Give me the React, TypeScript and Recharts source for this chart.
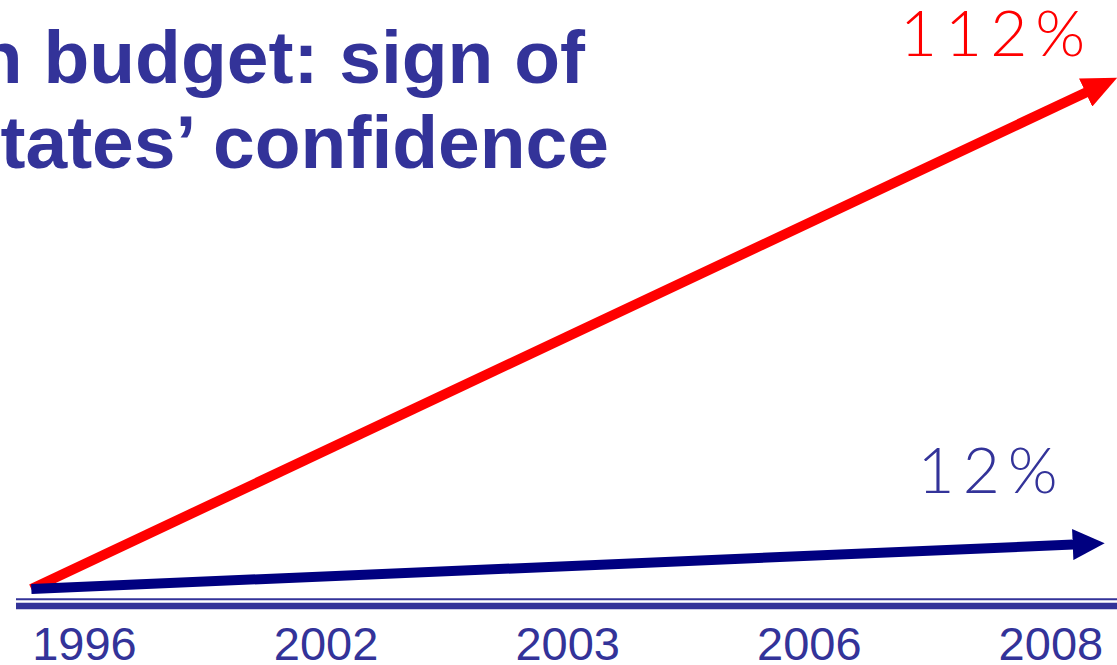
import { LineChart, Line, XAxis, YAxis, ReferenceLine, LabelList } from "recharts";

// axis categories (equally spaced)
const years = ["1996", "2002", "2003", "2006", "2008"];
const yearTicks = [0, 1, 2, 3, 4];

// arrow series: position on the year index scale, growth in %
const arrowX = [-0.22, 4.2];
const redGrowth = [0, 112];
const navyX = [-0.22, 4.14];
const navyGrowth = [0, 10];
const redLabel = "112%";
const navyLabel = "12%";

const redData = arrowX.map((x, i) => ({ x, v: redGrowth[i] }));
const navyData = navyX.map((x, i) => ({ x, v: navyGrowth[i] }));

const BLUE = "#333399";
const NAVY = "#000080";
const RED = "#FF0000";

const EndLabel = (text: string, color: string, dx: number, dy: number, last: number) =>
  (props: any) => {
    if (props.index !== last) return null;
    return (
      <text
        x={props.x + dx}
        y={props.y + dy}
        textAnchor="end"
        fill={color}
        fontFamily="Lato, 'Open Sans', sans-serif"
        fontWeight={300}
        fontSize={64}
        letterSpacing={8}
      >
        {text}
      </text>
    );
  };

export default function App() {
  return (
    <div style={{ position: "absolute", left: 0, top: 0, width: 1117, height: 665, background: "#fff" }}>
      <svg width={0} height={0} style={{ position: "absolute" }}>
        <defs>
          <marker id="headRed" markerUnits="userSpaceOnUse" viewBox="0 0 35 31" markerWidth={35} markerHeight={31} refX={15} refY={15.5} orient="auto">
            <path d="M0,0 L35,15.5 L0,31 z" fill={RED} />
          </marker>
          <marker id="headNavy" markerUnits="userSpaceOnUse" viewBox="0 0 32 31" markerWidth={32} markerHeight={31} refX={12} refY={15.5} orient="auto">
            <path d="M0,0 L32,15.5 L0,31 z" fill={NAVY} />
          </marker>
        </defs>
      </svg>
      <LineChart width={1117} height={665} margin={{ top: 0, right: 0, left: 16, bottom: 0 }}>
        <XAxis
          type="number"
          dataKey="x"
          domain={[-0.2835, 4.2736]}
          allowDataOverflow
          ticks={yearTicks}
          interval={0}
          tickFormatter={(v: number) => years[v]}
          height={59}
          tickSize={0}
          tickMargin={21}
          tickLine={false}
          axisLine={{ stroke: BLUE, strokeWidth: 6.5 }}
          tick={{ fill: BLUE, fontSize: 47, fontFamily: "'Liberation Sans', Arial, sans-serif" }}
        />
        <YAxis type="number" hide domain={[-3.8, 131.2]} allowDataOverflow />
        <ReferenceLine y={-2.3} stroke={BLUE} strokeWidth={2} />
        <Line
          data={redData}
          dataKey="v"
          stroke={RED}
          strokeWidth={10}
          dot={false}
          activeDot={false}
          markerEnd="url(#headRed)"
          isAnimationActive={false}
        >
          <LabelList dataKey="v" content={EndLabel(redLabel, RED, -6, -30, redData.length - 1)} />
        </Line>
        <Line
          data={navyData}
          dataKey="v"
          stroke={NAVY}
          strokeWidth={10}
          dot={false}
          activeDot={false}
          markerEnd="url(#headNavy)"
          isAnimationActive={false}
        >
          <LabelList dataKey="v" content={EndLabel(navyLabel, BLUE, -19, -51, navyData.length - 1)} />
        </Line>
      </LineChart>
      <svg width={1117} height={665} style={{ position: "absolute", left: 0, top: 0, pointerEvents: "none" }}>
        <g fill={BLUE} fontFamily="'Liberation Sans', Arial, sans-serif" fontWeight="bold" fontSize={75}>
          <text x={585} y={83} textAnchor="end">n budget: sign of</text>
          <text x={609} y={168} textAnchor="end">tates’ confidence</text>
        </g>
      </svg>
    </div>
  );
}
